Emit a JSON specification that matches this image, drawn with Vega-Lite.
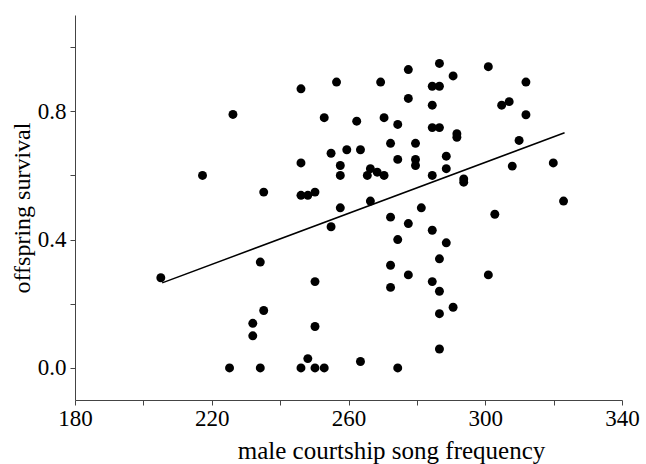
{
  "$schema": "https://vega.github.io/schema/vega-lite/v6.json",
  "width": 547,
  "height": 385,
  "autosize": "none",
  "padding": {"left": 75, "top": 15, "right": 24, "bottom": 64},
  "background": "white",
  "config": {
    "view": {"stroke": null},
    "font": "Liberation Serif",
    "axis": {
      "grid": false,
      "domainColor": "#444444",
      "tickColor": "#444444",
      "domainWidth": 1,
      "tickWidth": 1,
      "tickSize": 5,
      "labelFont": "Liberation Serif",
      "labelFontSize": 23,
      "labelColor": "black",
      "titleFont": "Liberation Serif",
      "titleFontSize": 24,
      "titleFontWeight": "normal",
      "titleColor": "black"
    }
  },
  "encoding": {
    "x": {
      "field": "freq",
      "type": "quantitative",
      "scale": {"domain": [180, 340], "nice": false, "zero": false},
      "axis": {
        "title": "male courtship song frequency",
        "values": [180, 200, 220, 240, 260, 280, 300, 320, 340],
        "labelExpr": "datum.value % 40 == 0 ? '' : datum.label",
        "labelPadding": 2,
        "titlePadding": 8,
        "titleFontSize": 25,
        "titleX": 316,
        "labelFlush": false
      }
    },
    "y": {
      "field": "survival",
      "type": "quantitative",
      "scale": {"domain": [-0.1, 1.1], "nice": false, "zero": false},
      "axis": {
        "title": "offspring survival",
        "values": [0, 0.2, 0.4, 0.6, 0.8, 1.0],
        "format": ".1f",
        "labelExpr": "(round(datum.value * 10) % 4 == 0) ? datum.label : ''",
        "labelPadding": 4,
        "titlePadding": 3
      }
    }
  },
  "layer": [
    {
      "data": {
        "values": [
          {"freq": 205.1, "survival": 0.281},
          {"freq": 217.3, "survival": 0.600},
          {"freq": 226.2, "survival": 0.790},
          {"freq": 225.2, "survival": 0.0},
          {"freq": 235.2, "survival": 0.548},
          {"freq": 234.2, "survival": 0.330},
          {"freq": 235.2, "survival": 0.179},
          {"freq": 232.0, "survival": 0.139},
          {"freq": 232.0, "survival": 0.100},
          {"freq": 234.2, "survival": 0.0},
          {"freq": 246.1, "survival": 0.870},
          {"freq": 246.1, "survival": 0.639},
          {"freq": 246.1, "survival": 0.538},
          {"freq": 248.1, "survival": 0.538},
          {"freq": 250.2, "survival": 0.548},
          {"freq": 246.1, "survival": 0.0},
          {"freq": 248.1, "survival": 0.029},
          {"freq": 250.2, "survival": 0.0},
          {"freq": 252.9, "survival": 0.0},
          {"freq": 250.2, "survival": 0.269},
          {"freq": 250.2, "survival": 0.129},
          {"freq": 256.5, "survival": 0.891},
          {"freq": 252.9, "survival": 0.780},
          {"freq": 254.9, "survival": 0.669},
          {"freq": 257.6, "survival": 0.631},
          {"freq": 257.6, "survival": 0.600},
          {"freq": 257.6, "survival": 0.499},
          {"freq": 254.9, "survival": 0.440},
          {"freq": 259.5, "survival": 0.680},
          {"freq": 262.4, "survival": 0.769},
          {"freq": 263.5, "survival": 0.680},
          {"freq": 263.5, "survival": 0.020},
          {"freq": 269.4, "survival": 0.891},
          {"freq": 270.4, "survival": 0.780},
          {"freq": 266.4, "survival": 0.621},
          {"freq": 265.5, "survival": 0.600},
          {"freq": 268.4, "survival": 0.610},
          {"freq": 270.4, "survival": 0.600},
          {"freq": 266.4, "survival": 0.520},
          {"freq": 272.3, "survival": 0.700},
          {"freq": 274.4, "survival": 0.759},
          {"freq": 274.4, "survival": 0.650},
          {"freq": 272.3, "survival": 0.470},
          {"freq": 274.4, "survival": 0.400},
          {"freq": 272.3, "survival": 0.320},
          {"freq": 272.3, "survival": 0.251},
          {"freq": 274.4, "survival": 0.0},
          {"freq": 277.5, "survival": 0.930},
          {"freq": 277.5, "survival": 0.840},
          {"freq": 279.6, "survival": 0.700},
          {"freq": 279.6, "survival": 0.650},
          {"freq": 279.6, "survival": 0.631},
          {"freq": 277.5, "survival": 0.450},
          {"freq": 277.5, "survival": 0.290},
          {"freq": 281.3, "survival": 0.499},
          {"freq": 284.5, "survival": 0.878},
          {"freq": 286.6, "survival": 0.878},
          {"freq": 286.6, "survival": 0.949},
          {"freq": 284.5, "survival": 0.819},
          {"freq": 284.5, "survival": 0.749},
          {"freq": 286.6, "survival": 0.749},
          {"freq": 284.5, "survival": 0.600},
          {"freq": 284.5, "survival": 0.429},
          {"freq": 284.5, "survival": 0.269},
          {"freq": 286.6, "survival": 0.340},
          {"freq": 286.6, "survival": 0.239},
          {"freq": 286.6, "survival": 0.169},
          {"freq": 286.6, "survival": 0.059},
          {"freq": 288.6, "survival": 0.390},
          {"freq": 288.6, "survival": 0.660},
          {"freq": 288.6, "survival": 0.621},
          {"freq": 290.6, "survival": 0.910},
          {"freq": 290.6, "survival": 0.189},
          {"freq": 291.7, "survival": 0.730},
          {"freq": 291.7, "survival": 0.719},
          {"freq": 293.7, "survival": 0.589},
          {"freq": 293.7, "survival": 0.579},
          {"freq": 300.9, "survival": 0.939},
          {"freq": 300.9, "survival": 0.290},
          {"freq": 302.8, "survival": 0.479},
          {"freq": 304.8, "survival": 0.819},
          {"freq": 307.0, "survival": 0.830},
          {"freq": 307.9, "survival": 0.629},
          {"freq": 309.9, "survival": 0.709},
          {"freq": 311.9, "survival": 0.891},
          {"freq": 311.9, "survival": 0.789},
          {"freq": 319.9, "survival": 0.639},
          {"freq": 322.9, "survival": 0.520}
        ]
      },
      "mark": {"type": "circle", "size": 80, "color": "black", "opacity": 1}
    },
    {
      "data": {
        "values": [
          {"freq": 205.5, "survival": 0.265},
          {"freq": 323.2, "survival": 0.733}
        ]
      },
      "mark": {"type": "line", "color": "black", "strokeWidth": 1.5}
    }
  ]
}
